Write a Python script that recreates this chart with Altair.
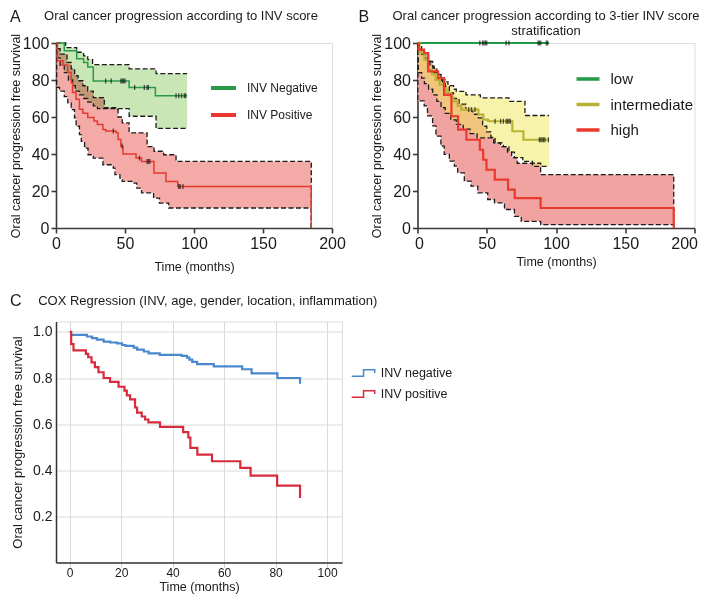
import altair as alt
import pandas as pd

F = "Liberation Sans"
TC = "#1a1a1a"
AX = "#3a3a3a"

# ---------------- Panel A : INV score ----------------
A_title = "Oral cancer progression according to INV score"
A_groups = ["INV Negative", "INV Positive"]
A_line_colors = ["#2a9a48", "#e8392f"]

A_neg_t = [0, 6, 15, 20, 23, 27, 53, 72, 95]
A_neg_s = [100, 95.8, 91.5, 89.5, 87, 79.5, 76, 71.5, 71.5]
A_neg_hi_t = [0, 7, 15, 20, 23, 26.5, 53, 72.5, 95]
A_neg_hi_s = [100, 97.5, 95, 93, 91, 88.3, 86, 83.4, 83.4]
A_neg_lo_t = [0, 1, 3, 6, 9, 12, 14, 17, 20, 23, 27, 30, 53, 72.5, 95]
A_neg_lo_s = [100, 92, 88, 84, 80, 77, 74, 72, 70, 68, 66, 64.5, 60.4, 53.8, 53.8]
A_neg_cens = [36, 40, 47, 48, 49, 50, 57, 64, 66, 67, 87, 89, 91, 93, 94]

A_pos_t = [0, 1, 5, 8.5, 11, 12, 14.5, 17, 19.5, 23, 27.5, 30, 34, 36, 43.5, 45, 47, 48.5,
           58, 62, 71, 79.7, 88.2, 185, 185]
A_pos_s = [100, 90.4, 88, 84, 78.7, 73.2, 69.6, 64.2, 62, 59.7, 57.9, 56, 53.3, 52.4, 51.5, 47.9,
           44.3, 40, 37.8, 36, 29.7, 25.2, 22.5, 22.5, 0]
A_pos_hi_t = [0, 1, 3, 8, 11, 13.5, 16, 19.5, 23, 27, 35, 44, 45, 48, 53, 66, 71, 78, 87, 185]
A_pos_hi_s = [100, 97, 94, 89.5, 86, 82.3, 79.6, 76.9, 74, 70.5, 65, 64, 60, 56.8, 51.4, 44,
              41.5, 39.6, 36, 0]
A_pos_lo_t = [0, 0.5, 2.5, 6, 8.5, 11, 13.4, 14.6, 17, 18.3, 20.7, 23.2, 27, 34, 41.5, 42.7,
              46.3, 48, 56, 58.5, 62, 70.7, 75, 81.7, 185]
A_pos_lo_s = [100, 76, 74, 71, 67.6, 64, 59.5, 55, 50.5, 46.8, 43.2, 39.6, 37.8, 34.2, 32.4,
              28.8, 27, 25.2, 24.3, 21.6, 19, 16.2, 13.5, 10.8, 0]
A_pos_cens = [41.5, 47.8, 60.5, 66, 67, 68, 89, 90, 92]

# ---------------- Panel B : 3-tier INV score ----------------
B_title = "Oral cancer progression according to 3-tier INV score\nstratification"
B_groups = ["low", "intermediate", "high"]
B_line_colors = ["#1f9a46", "#b7b236", "#ea3a2c"]

B_low_t = [0, 95]
B_low_s = [100, 100]
B_low_cens = [45, 47, 48, 49, 50, 64, 66, 87, 88, 89, 93, 94]

B_int_t = [0, 1.5, 5, 7.5, 10.5, 13, 16, 19, 21, 24, 26, 29, 31.5, 44, 47.5, 51, 68.5, 76.5, 95]
B_int_s = [100, 94.6, 91, 85.6, 83, 80, 77.5, 75, 73, 70.5, 68.5, 66, 64, 61.3, 58.6, 57.7,
           52.3, 47.7, 47.7]
B_int_hi_t = [0, 0.5, 3, 6, 9, 12, 15, 18, 22, 26, 28, 35, 45.4, 66, 77.6, 95]
B_int_hi_s = [100, 96, 94, 91, 87.5, 84, 81, 79, 77, 75, 73.9, 72, 70.3, 68.5, 60.8, 60.8]
B_int_lo_t = [0, 0.5, 3, 5, 8, 11, 14, 17, 20, 24, 28, 33, 38, 43, 55, 62, 66, 70, 76, 83, 95]
B_int_lo_s = [100, 84, 81, 78, 75, 72, 68.5, 65, 62, 58.5, 56, 53.5, 51, 48.7, 46, 44, 41, 38,
              36, 33.3, 33.3]
B_int_cens = [37, 39, 41.5, 56, 60, 62, 64, 65, 66, 67, 88, 89, 90, 91, 92, 94.5]

B_high_t = [0, 1, 4.8, 7.7, 14.9, 19.2, 24.5, 29.3, 35.3, 45, 47.4, 49.8, 55.8, 65.4, 70.2,
            88.9, 185, 185]
B_high_s = [100, 96.4, 94.6, 84.7, 81, 72, 60.4, 53.2, 47.7, 42.3, 36.9, 31.5, 26.1, 20.7,
            16.2, 10.8, 10.8, 0]
B_high_hi_t = [0, 1, 3, 5, 8, 11, 14, 17, 20, 23, 26, 30, 35, 40, 44, 47, 50, 53, 56, 60, 65,
               68, 72, 88.9, 185]
B_high_hi_s = [100, 98, 96, 93.5, 90, 86.5, 83, 80, 76.5, 73, 70, 67, 64, 61.5, 59.5, 55, 52,
               49, 46, 44, 41, 38, 35, 28.8, 0]
B_high_lo_t = [0, 0.3, 4.8, 7.2, 10.9, 13.3, 16.9, 19.3, 23, 26.6, 29, 33.8, 38.6, 43.5, 50.7,
               55.6, 62.8, 70, 74.9, 88.9, 185]
B_high_lo_s = [100, 68.7, 66, 60.6, 55.2, 49.7, 44.3, 39.8, 36.2, 33.5, 29.8, 25.3, 22.6, 19,
               15.4, 13.6, 10, 6.3, 3.6, 1.8, 0]

# ---------------- Panel C : Cox regression ----------------
C_title = "COX Regression (INV, age, gender, location, inflammation)"
C_groups = ["INV negative", "INV positive"]
C_line_colors = ["#4a87cc", "#d72a3d"]

C_neg_t = [0.6, 6.7, 8.7, 10.6, 13.2, 15.8, 18.4, 20.4, 21.7, 24.9, 26.2, 28.8, 30.7, 35, 43.5,
           45.6, 46.5, 47.6, 49.5, 56, 67, 70.7, 80.7, 89.5, 89.5]
C_neg_v = [0.987, 0.98, 0.973, 0.966, 0.958, 0.954, 0.95, 0.943, 0.939, 0.932, 0.923, 0.915,
           0.907, 0.9, 0.896, 0.888, 0.88, 0.87, 0.86, 0.85, 0.838, 0.82, 0.8, 0.8, 0.775]
C_pos_t = [0, 0.6, 1.5, 6.3, 7.2, 8.5, 9.8, 11.2, 13.2, 15.7, 19, 21.3, 22.2, 23.5, 25.4, 26.2,
           28, 29.3, 30.6, 35.1, 44.1, 46.1, 46.9, 49.6, 55.3, 66.3, 70.3, 80.6, 89.5, 89.5]
C_pos_v = [1.0, 0.947, 0.92, 0.905, 0.89, 0.868, 0.847, 0.825, 0.8, 0.783, 0.762, 0.745, 0.725,
           0.707, 0.672, 0.65, 0.633, 0.62, 0.608, 0.588, 0.565, 0.542, 0.497, 0.468, 0.439,
           0.41, 0.377, 0.333, 0.333, 0.28]


# ---------------- helpers ----------------
def step_val(ts, vs, t):
    v = vs[0]
    for ti, vi in zip(ts, vs):
        if ti <= t:
            v = vi
        else:
            break
    return v


def band_df(hi_t, hi_s, lo_t, lo_s):
    ts = sorted(set(hi_t) | set(lo_t))
    return pd.DataFrame({"t": ts,
                         "hi": [step_val(hi_t, hi_s, t) for t in ts],
                         "lo": [step_val(lo_t, lo_s, t) for t in ts]})


def km_df(ts, vs, g):
    return pd.DataFrame({"t": ts, "s": vs, "i": list(range(len(ts))), "g": g})


def bounds_df(parts):
    frames = []
    for k, (ts, vs) in enumerate(parts):
        frames.append(pd.DataFrame({"t": ts, "s": vs, "i": list(range(len(ts))), "b": f"b{k}"}))
    return pd.concat(frames, ignore_index=True)


def cens_df(cens, ts, vs):
    return pd.DataFrame({"t": cens, "s": [step_val(ts, vs, c) for c in cens]})


def text_layer(txt, x, y, size, align="center", line_height=None):
    kw = dict(align=align, baseline="middle", fontSize=size, font=F, color=TC)
    if line_height:
        kw.update(lineBreak="\n", lineHeight=line_height)
    return alt.Chart(pd.DataFrame({"txt": [txt]})).mark_text(**kw).encode(
        text="txt:N", x=alt.value(x), y=alt.value(y))


def ab_axes(x_title_pad, y_title_pad, x_flush):
    ax_x = alt.Axis(values=[0, 50, 100, 150, 200], title="Time (months)", grid=False,
                    domainColor=AX, domainWidth=1.6, tickColor=AX, tickWidth=1.6, tickSize=5,
                    labelFontSize=16, labelPadding=2, labelColor=TC, labelFont=F,
                    labelFlush=x_flush, labelFlushOffset=3, titleFont=F, titleFontSize=12.5,
                    titleFontWeight="normal", titleColor=TC, titlePadding=x_title_pad)
    ax_y = alt.Axis(values=[0, 20, 40, 60, 80, 100], title="Oral cancer progression free survival",
                    grid=False, domainColor=AX, domainWidth=1.6, tickColor=AX, tickWidth=1.6,
                    tickSize=5, labelFontSize=16, labelPadding=2, labelColor=TC, labelFont=F,
                    labelFlush=False, titleFont=F, titleFontSize=12.5, titleFontWeight="normal",
                    titleColor=TC, titlePadding=y_title_pad)
    return ax_x, ax_y


W_AB, H_AB = 276, 185
sx = alt.Scale(domain=[0, 200], nice=False)
sy = alt.Scale(domain=[0, 100], nice=False)

# ---------------- build panel A ----------------
axAx, axAy = ab_axes(9, 0, False)
XA = alt.X("t:Q", scale=sx, axis=axAx)


def YA(f):
    return alt.Y(f, scale=sy, axis=axAy)


a_pos_band = alt.Chart(band_df(A_pos_hi_t, A_pos_hi_s, A_pos_lo_t, A_pos_lo_s)).mark_area(
    interpolate="step-after", color="#f4aaa6").encode(x=XA, y=YA("lo:Q"), y2="hi:Q")
a_neg_band = alt.Chart(band_df(A_neg_hi_t, A_neg_hi_s, A_neg_lo_t, A_neg_lo_s)).mark_area(
    interpolate="step-after", color="#c9e6b6", blend="multiply").encode(x=XA, y=YA("lo:Q"), y2="hi:Q")
a_bounds = alt.Chart(bounds_df([(A_pos_hi_t, A_pos_hi_s), (A_pos_lo_t, A_pos_lo_s),
                                (A_neg_hi_t, A_neg_hi_s), (A_neg_lo_t, A_neg_lo_s)])).mark_line(
    interpolate="step-after", color="#1c1c1c", strokeWidth=1.3, strokeDash=[5, 2.5]).encode(
    x=XA, y=YA("s:Q"), detail="b:N", order="i:Q")
a_km = alt.Chart(pd.concat([km_df(A_neg_t, A_neg_s, A_groups[0]),
                            km_df(A_pos_t, A_pos_s, A_groups[1])])).mark_line(
    interpolate="step-after", strokeWidth=1.5).encode(
    x=XA, y=YA("s:Q"), order="i:Q",
    color=alt.Color("g:N", scale=alt.Scale(domain=A_groups, range=A_line_colors),
                    legend=alt.Legend(title=None, orient="none", legendX=153, legendY=30.5,
                                      symbolType="stroke", symbolStrokeWidth=4, symbolSize=625,
                                      labelFontSize=12, labelFont=F, labelColor=TC,
                                      labelOffset=9, rowPadding=4)))
a_cens = alt.Chart(pd.concat([cens_df(A_neg_cens, A_neg_t, A_neg_s),
                              cens_df(A_pos_cens, A_pos_t, A_pos_s)])).mark_tick(
    orient="vertical", color="#111111", size=5, thickness=1.3).encode(x=XA, y=YA("s:Q"))

panelA = alt.layer(a_pos_band, a_neg_band, a_bounds, a_km, a_cens,
                   text_layer(A_title, 125, -27.5, 13),
                   text_layer("A", -46, -26.5, 16, align="left")).properties(
    width=W_AB, height=H_AB)

# ---------------- build panel B ----------------
axBx, axBy = ab_axes(4, 0, True)
XB = alt.X("t:Q", scale=sx, axis=axBx)


def YB(f):
    return alt.Y(f, scale=sy, axis=axBy)


b_high_band = alt.Chart(band_df(B_high_hi_t, B_high_hi_s, B_high_lo_t, B_high_lo_s)).mark_area(
    interpolate="step-after", color="#f0a3a0").encode(x=XB, y=YB("lo:Q"), y2="hi:Q")
b_int_band = alt.Chart(band_df(B_int_hi_t, B_int_hi_s, B_int_lo_t, B_int_lo_s)).mark_area(
    interpolate="step-after", color="#f1e755", fillOpacity=0.5).encode(x=XB, y=YB("lo:Q"), y2="hi:Q")
b_bounds = alt.Chart(bounds_df([(B_high_hi_t, B_high_hi_s), (B_high_lo_t, B_high_lo_s),
                                (B_int_hi_t, B_int_hi_s), (B_int_lo_t, B_int_lo_s)])).mark_line(
    interpolate="step-after", color="#1c1c1c", strokeWidth=1.3, strokeDash=[5, 2.5]).encode(
    x=XB, y=YB("s:Q"), detail="b:N", order="i:Q")
b_km = alt.Chart(pd.concat([km_df(B_low_t, B_low_s, B_groups[0]),
                            km_df(B_int_t, B_int_s, B_groups[1]),
                            km_df(B_high_t, B_high_s, B_groups[2])])).mark_line(
    interpolate="step-after", strokeWidth=2.2).encode(
    x=XB, y=YB("s:Q"), order="i:Q",
    color=alt.Color("g:N", scale=alt.Scale(domain=B_groups, range=B_line_colors),
                    legend=alt.Legend(title=None, orient="none", legendX=157, legendY=22.5,
                                      symbolType="stroke", symbolStrokeWidth=3.5, symbolSize=529,
                                      labelFontSize=15, labelFont=F, labelColor=TC,
                                      labelOffset=9, rowPadding=3.5)))
b_cens = alt.Chart(pd.concat([cens_df(B_low_cens, B_low_t, B_low_s),
                              cens_df(B_int_cens, B_int_t, B_int_s)])).mark_tick(
    orient="vertical", color="#111111", size=5, thickness=1.3).encode(x=XB, y=YB("s:Q"))

panelB = alt.layer(b_high_band, b_int_band, b_bounds, b_km, b_cens,
                   text_layer(B_title, 128.5, -27.5, 13, line_height=15),
                   text_layer("B", -59, -26.5, 16, align="left")).properties(
    width=277, height=H_AB)

# ---------------- build panel C ----------------
axCx = alt.Axis(values=[0, 20, 40, 60, 80, 100], title="Time (months)", grid=True,
                gridColor="#dadada", gridWidth=1, domainColor="#333333", domainWidth=1.5,
                tickColor="#d0d0d0", tickSize=5, tickWidth=1, labelFontSize=12,
                labelPadding=0, labelColor=TC, labelFont=F, labelFlush=False, titleFont=F,
                titleFontSize=12.5, titleFontWeight="normal", titleColor=TC, titlePadding=2)
axCy = alt.Axis(values=[0.2, 0.4, 0.6, 0.8, 1.0], format=".1f",
                title="Oral cancer progression free survival", grid=True, gridColor="#dadada",
                gridWidth=1, domainColor="#333333", domainWidth=1.5, ticks=False,
                labelPadding=4, labelFontSize=14, labelColor=TC, labelFont=F, labelFlush=False,
                titleFont=F, titleFontSize=13, titleFontWeight="normal", titleColor=TC,
                titlePadding=8)
XC = alt.X("t:Q", scale=alt.Scale(domain=[-5.3, 105.8], nice=False, zero=False), axis=axCx)
YC = alt.Y("s:Q", scale=alt.Scale(domain=[0, 1.045], nice=False), axis=axCy)

step_path = "M-1,0.29 L0.03,0.29 L0.03,-0.29 L1,-0.29 L1,0"
c_lines = alt.Chart(pd.concat([km_df(C_neg_t, C_neg_v, C_groups[0]),
                               km_df(C_pos_t, C_pos_v, C_groups[1])])).mark_line(
    interpolate="step-after", strokeWidth=2.2).encode(
    x=XC, y=YC, order="i:Q",
    color=alt.Color("g:N", scale=alt.Scale(domain=C_groups, range=C_line_colors),
                    legend=alt.Legend(title=None, orient="none", legendX=294.7, legendY=39,
                                      symbolType=step_path, symbolStrokeWidth=1.5,
                                      symbolSize=529, labelFontSize=12.5, labelFont=F,
                                      labelColor=TC, labelOffset=5, rowPadding=2)))

panelC = alt.layer(c_lines,
                   text_layer(C_title, 151.7, -20.3, 13),
                   text_layer("C", -46, -20.3, 16, align="left")).properties(
    width=286, height=241)

top = alt.hconcat(panelA, panelB, spacing=11.5).resolve_scale(color="independent")
chart = alt.vconcat(top, panelC, spacing=19.5).resolve_scale(color="independent").properties(
    padding={"left": 0, "top": 0, "right": 0, "bottom": 0}
).configure_view(stroke=None).configure(font=F)

chart.save("out.html", embed_options={"renderer": "svg", "actions": False})
